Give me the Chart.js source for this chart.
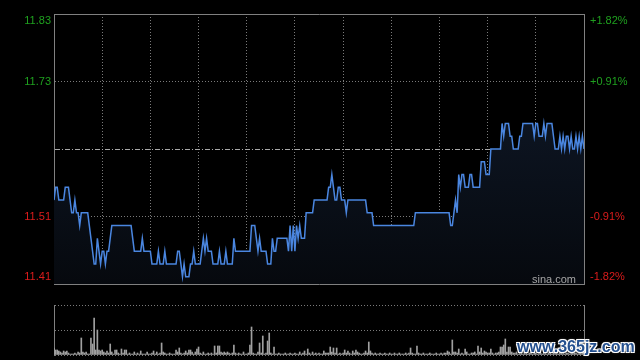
<!DOCTYPE html>
<html>
<head>
<meta charset="utf-8">
<script src="https://cdn.jsdelivr.net/npm/chart.js@4/dist/chart.umd.min.js"></script>
<style>
html,body{margin:0;padding:0;background:#000;width:640px;height:360px;overflow:hidden}
#wrap{position:relative;width:640px;height:360px;background:#000}
#price{position:absolute;left:0;top:0}
#vol{position:absolute;left:0;top:292px}
.sina{position:absolute;left:532px;top:273px;font:11px "Liberation Sans",Arial,sans-serif;color:#a6a6a6;line-height:13px}
.wm{position:absolute;left:517px;top:337px;font:bold 16px "Liberation Sans",Arial,sans-serif;color:#24508f;line-height:20px;
text-shadow:-1px -1px 0 #fff,1px -1px 0 #fff,-1px 1px 0 #fff,1px 1px 0 #fff,0 0 3px #999}
</style>
</head>
<body>
<div id="wrap">
<canvas id="price" width="640" height="292"></canvas>
<canvas id="vol" width="640" height="68"></canvas>
<div class="sina">sina.com</div>
<div class="wm">www.365jz.com</div>
</div>
<script>
// ---- data ----
const prevClose = 11.62;
const pctLevels = [-1.82, -0.91, 0, 0.91, 1.82];
const priceLabels = ['11.41', '11.51', '', '11.73', '11.83'];
const pctLabels = ['-1.82%', '-0.91%', '', '+0.91%', '+1.82%'];
const sessionMinutes = 330;   // HK session: 9:30-12:00, 13:00-16:00
const gridStepMinutes = 30;
const prices = [
11.54,11.56,11.56,11.54,11.54,11.54,11.54,11.56,11.56,11.56,
11.54,11.52,11.52,11.54,11.52,11.52,11.50,11.52,11.52,11.52,
11.52,11.52,11.50,11.48,11.46,11.44,11.44,11.48,11.46,11.44,
11.46,11.46,11.44,11.46,11.46,11.48,11.50,11.50,11.50,11.50,
11.50,11.50,11.50,11.50,11.50,11.50,11.50,11.50,11.50,11.48,
11.46,11.46,11.46,11.46,11.46,11.48,11.46,11.46,11.46,11.46,
11.46,11.44,11.44,11.44,11.44,11.46,11.44,11.44,11.44,11.46,
11.44,11.44,11.44,11.44,11.44,11.44,11.44,11.46,11.46,11.44,
11.42,11.44,11.42,11.42,11.42,11.44,11.44,11.46,11.44,11.44,
11.44,11.44,11.46,11.48,11.46,11.48,11.46,11.46,11.46,11.44,
11.44,11.44,11.44,11.46,11.44,11.44,11.44,11.46,11.44,11.44,
11.44,11.44,11.48,11.46,11.46,11.46,11.46,11.46,11.46,11.46,
11.46,11.46,11.46,11.50,11.50,11.50,11.48,11.46,11.48,11.46,
11.46,11.46,11.46,11.44,11.44,11.44,11.48,11.46,11.46,11.48,
11.48,11.48,11.48,11.48,11.48,11.48,11.46,11.50,11.46,11.50,
11.46,11.50,11.48,11.50,11.48,11.48,11.48,11.52,11.52,11.52,
11.52,11.52,11.54,11.54,11.54,11.54,11.54,11.54,11.54,11.54,
11.54,11.56,11.56,11.58,11.56,11.54,11.54,11.56,11.56,11.54,
11.54,11.54,11.52,11.54,11.54,11.54,11.54,11.54,11.54,11.54,
11.54,11.54,11.54,11.54,11.54,11.52,11.52,11.52,11.52,11.50,
11.50,11.50,11.50,11.50,11.50,11.50,11.50,11.50,11.50,11.50,
11.50,11.50,11.50,11.50,11.50,11.50,11.50,11.50,11.50,11.50,
11.50,11.50,11.50,11.50,11.50,11.52,11.52,11.52,11.52,11.52,
11.52,11.52,11.52,11.52,11.52,11.52,11.52,11.52,11.52,11.52,
11.52,11.52,11.52,11.52,11.52,11.52,11.52,11.50,11.50,11.52,
11.54,11.52,11.58,11.56,11.58,11.58,11.56,11.56,11.56,11.58,
11.58,11.56,11.56,11.56,11.56,11.56,11.60,11.60,11.60,11.58,
11.58,11.58,11.62,11.62,11.62,11.62,11.62,11.62,11.62,11.66,
11.64,11.66,11.66,11.66,11.64,11.64,11.62,11.62,11.62,11.62,
11.64,11.64,11.66,11.66,11.66,11.66,11.66,11.66,11.66,11.64,
11.66,11.66,11.64,11.64,11.64,11.66,11.64,11.66,11.66,11.66,
11.66,11.64,11.62,11.62,11.62,11.64,11.62,11.64,11.62,11.64,
11.64,11.62,11.64,11.62,11.62,11.64,11.62,11.64,11.62,11.64,
11.62
];
const volumes = [
7,5,5,4,3,2,4,3,4,2,
1,1,1,2,1,3,2,17,3,2,
3,1,1,17,11,37,5,25,5,4,
5,3,2,4,2,11,3,1,5,5,
2,1,6,2,5,5,1,2,1,1,
3,1,2,1,4,1,1,1,3,1,
1,2,4,1,3,1,2,12,3,2,
1,1,2,1,1,1,5,3,7,2,
1,2,4,2,5,5,3,1,3,6,
8,2,1,3,1,1,2,1,2,1,
9,2,9,9,3,2,3,2,3,2,
1,2,10,2,1,2,1,1,3,1,
1,2,10,28,2,1,1,3,12,2,
19,1,2,14,22,2,1,8,1,1,
2,1,1,1,2,1,1,2,1,1,
2,1,1,3,1,2,4,1,6,2,
1,3,1,2,1,2,1,1,4,2,
2,2,8,3,7,2,7,1,2,1,
2,5,2,4,2,1,4,2,5,3,
2,1,1,2,4,2,13,4,2,1,
2,1,1,2,1,1,2,1,1,2,
1,1,2,1,1,2,1,1,1,2,
1,2,7,2,1,1,9,2,1,1,
2,1,1,1,2,1,1,1,2,1,
1,2,1,2,2,4,3,1,15,3,
3,2,6,1,2,1,6,3,1,1,
2,2,3,1,9,3,7,2,4,3,
2,2,6,2,1,2,2,3,8,8,
10,16,3,8,8,3,2,2,3,1,
2,2,1,3,2,1,2,3,1,2,
2,1,3,2,1,2,3,1,2,2,
1,3,2,2,1,2,3,2,1,2,
2,1,2,3,2,2,1,3,2,4,
3
];
const volumeMax = 50;
const volumeTicks = [0, 25, 50];

// ---- styling ----
Chart.defaults.font.family = '"Liberation Sans", Arial, sans-serif';
Chart.defaults.font.size = 11;
const GRID = '#7a7a7a';
const FRAME = '#808080';
const PREV = '#a8a8a8';
const RED = '#dc1c1c';
const GREEN = '#1fa01f';
const TRANSPARENT = 'rgba(0,0,0,0)';

const yTickValues = pctLevels.map(p => prevClose * (1 + p / 100));
const yMin = yTickValues[0];
const yMax = yTickValues[yTickValues.length - 1];
const nT = yTickValues.length;

function edgeLabel(arr, i) {
  const t = arr[i];
  if (i === 0) return [t, ''];
  if (i === arr.length - 1) return ['', t];
  return t;
}
function labelColor(ctx) {
  const i = ctx.index;
  if (i < 2) return RED;
  if (i > 2) return GREEN;
  return '#999';
}
function fillGradient(ctx) {
  const chart = ctx.chart;
  const a = chart.chartArea;
  if (!a) return TRANSPARENT;
  const g = chart.ctx.createLinearGradient(0, a.top, 0, a.bottom);
  g.addColorStop(0, 'rgb(17,28,46)');
  g.addColorStop(1, 'rgb(6,9,14)');
  return g;
}

new Chart(document.getElementById('price'), {
  type: 'line',
  data: {
    datasets: [{
      data: prices.map((p, i) => ({ x: i, y: p })),
      borderColor: '#4a86e0',
      borderWidth: 1.5,
      pointRadius: 0,
      tension: 0,
      fill: 'start',
      backgroundColor: fillGradient
    }]
  },
  options: {
    responsive: false,
    animation: false,
    events: [],
    layout: { padding: { top: 14, bottom: 8, left: 0, right: 0 } },
    plugins: { legend: { display: false }, tooltip: { enabled: false } },
    scales: {
      x: {
        type: 'linear', min: 0, max: sessionMinutes,
        ticks: { display: false, stepSize: gridStepMinutes },
        grid: {
          drawTicks: false, lineWidth: 1,
          color: ctx => (ctx.type === 'tick' && (ctx.tick.value <= 0 || ctx.tick.value >= sessionMinutes)) ? TRANSPARENT : GRID
        },
        border: { display: true, color: FRAME, dash: ctx => ctx.type === 'tick' ? [1, 2] : [] },
        afterFit(s) { s.height = 0; s.paddingLeft = 0; s.paddingRight = 0; }
      },
      y: {
        position: 'left', min: yMin, max: yMax,
        afterBuildTicks(s) { s.ticks = yTickValues.map(v => ({ value: v })); },
        ticks: { padding: 3, color: labelColor, autoSkip: false, callback: (v, i) => edgeLabel(priceLabels, i) },
        grid: {
          drawTicks: false, lineWidth: 1,
          color: ctx => ctx.type !== 'tick' ? GRID : (ctx.index === 0 ? TRANSPARENT : ctx.index === nT - 1 ? FRAME : ctx.index === 2 ? PREV : GRID)
        },
        border: {
          display: true, color: FRAME,
          dash: ctx => ctx.type !== 'tick' ? [] : (ctx.index === 2 ? [5, 2, 1, 2] : ctx.index === nT - 1 ? [] : [1, 2])
        },
        afterFit(s) { s.width = 54; s.paddingTop = 0; s.paddingBottom = 0; }
      },
      y2: {
        position: 'right', min: yMin, max: yMax,
        afterBuildTicks(s) { s.ticks = yTickValues.map(v => ({ value: v })); },
        ticks: { padding: 6, color: labelColor, autoSkip: false, callback: (v, i) => edgeLabel(pctLabels, i) },
        grid: { display: false, drawTicks: false },
        border: { display: true, color: FRAME },
        afterFit(s) { s.width = 56; s.paddingTop = 0; s.paddingBottom = 0; }
      }
    }
  }
});

new Chart(document.getElementById('vol'), {
  type: 'bar',
  data: {
    datasets: [{
      data: volumes.map((v, i) => ({ x: i, y: v })),
      backgroundColor: '#a0a0a0',
      borderWidth: 0,
      barThickness: 1
    }]
  },
  options: {
    responsive: false,
    animation: false,
    events: [],
    layout: { padding: { top: 13, bottom: 5, left: 0, right: 0 } },
    plugins: { legend: { display: false }, tooltip: { enabled: false } },
    scales: {
      x: { type: 'linear', min: 0, max: sessionMinutes, offset: false, display: false },
      y: {
        position: 'left', min: 0, max: volumeMax,
        afterBuildTicks(s) { s.ticks = volumeTicks.map(v => ({ value: v })); },
        ticks: { display: false },
        grid: { drawTicks: false, lineWidth: 1, color: GRID },
        border: { display: true, color: FRAME, dash: ctx => ctx.type === 'tick' ? [1, 2] : [] },
        afterFit(s) { s.width = 54; s.paddingTop = 0; s.paddingBottom = 0; }
      },
      y2: {
        position: 'right', min: 0, max: volumeMax,
        ticks: { display: false },
        grid: { display: false, drawTicks: false },
        border: { display: true, color: FRAME },
        afterFit(s) { s.width = 56; s.paddingTop = 0; s.paddingBottom = 0; }
      }
    }
  }
});
</script>
</body>
</html>
